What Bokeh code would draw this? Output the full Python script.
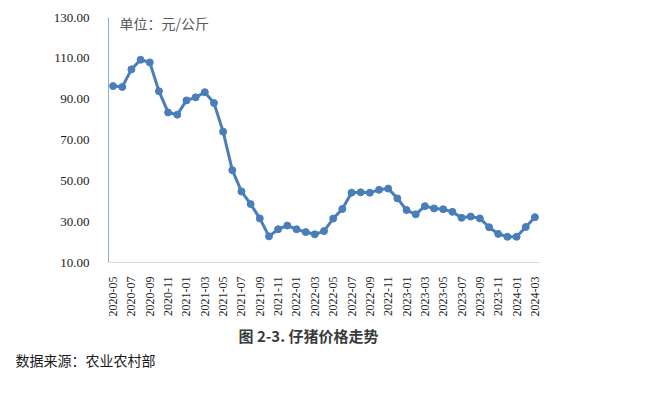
from bokeh.plotting import figure
from bokeh.models import Label, FixedTicker, Range1d, PrintfTickFormatter, Title
from bokeh.embed import file_html
from bokeh.resources import INLINE
import math

months = ["2020-05", "2020-06", "2020-07", "2020-08", "2020-09", "2020-10", "2020-11", "2020-12",
          "2021-01", "2021-02", "2021-03", "2021-04", "2021-05", "2021-06", "2021-07", "2021-08",
          "2021-09", "2021-10", "2021-11", "2021-12", "2022-01", "2022-02", "2022-03", "2022-04",
          "2022-05", "2022-06", "2022-07", "2022-08", "2022-09", "2022-10", "2022-11", "2022-12",
          "2023-01", "2023-02", "2023-03", "2023-04", "2023-05", "2023-06", "2023-07", "2023-08",
          "2023-09", "2023-10", "2023-11", "2023-12", "2024-01", "2024-02", "2024-03"]
prices = [96.4, 96.0, 104.6, 109.3, 108.0, 93.9, 83.5, 82.4,
          89.4, 90.9, 93.4, 88.1, 74.1, 55.2, 44.8, 38.6,
          31.6, 22.8, 26.3, 28.1, 26.3, 24.9, 23.8, 25.4,
          31.5, 36.2, 44.2, 44.4, 44.2, 45.6, 46.2, 41.4,
          35.7, 33.6, 37.6, 36.5, 36.1, 34.8, 31.9, 32.5,
          31.6, 27.3, 24.0, 22.6, 22.6, 27.4, 32.2]
y_ticks = [10, 30, 50, 70, 90, 110, 130]
unit_text = "单位：元/公斤"
caption_text = "图 2-3. 仔猪价格走势"
source_text = "数据来源：农业农村部"

x = list(range(len(months)))

FL, FT, FW, FH = 108, 17, 431, 245
p = figure(output_backend="svg", toolbar_location=None,
           frame_width=FW, frame_height=FH,
           min_border_left=FL, min_border_top=FT, min_border_right=99, min_border_bottom=136,
           x_range=Range1d(-0.5, len(months) - 0.5), y_range=Range1d(10, 130))
p.outline_line_color = None
p.grid.grid_line_color = None
p.background_fill_color = "white"
p.border_fill_color = "white"

p.line(x, prices, line_color="#4A7EBB", line_width=3)
p.scatter(x, prices, size=7, fill_color="#4A7EBB", line_color="#4A7EBB")

# y axis
p.yaxis.ticker = FixedTicker(ticks=y_ticks)
p.yaxis.formatter = PrintfTickFormatter(format="%.2f")
p.yaxis.major_label_text_font = "Liberation Serif"
p.yaxis.major_label_text_font_size = "13px"
p.yaxis.major_label_text_color = "#1a1a1a"
p.yaxis.major_label_standoff = 13
p.yaxis.axis_line_color = "#8FAADC"
p.yaxis.major_tick_line_color = None
p.yaxis.minor_tick_line_color = None

# x axis
p.xaxis.ticker = FixedTicker(ticks=x[::2])
p.xaxis.major_label_overrides = {i: months[i] for i in x}
p.xaxis.major_label_orientation = math.pi / 2
p.xaxis.major_label_text_font = "Liberation Serif"
p.xaxis.major_label_text_font_size = "12px"
p.xaxis.major_label_text_color = "#262626"
p.xaxis.major_label_standoff = 8
p.xaxis.axis_line_color = "#D9D9D9"
p.xaxis.major_tick_line_color = None
p.xaxis.minor_tick_line_color = None

# unit label inside the frame (page pixel -> data coords)
def dx(px):
    return (px - FL) / (FW / len(months)) - 0.5

def dy(py):
    return 10 + ((FT + FH) - py) / (FH / 120.0)

p.add_layout(Label(x=dx(119), y=dy(22), text=unit_text, text_font="Noto Sans CJK SC",
                   text_font_size="14px", text_color="#595959", text_baseline="middle"))

# caption and source below the chart
cap = Title(text=caption_text, align="left", offset=130, standoff=7,
            text_font="Noto Sans CJK SC", text_font_size="15px", text_font_style="bold",
            text_color="#3a3a3a")
src = Title(text=source_text, align="left", offset=-93, standoff=-3,
            text_font="Noto Sans CJK SC", text_font_size="14px", text_font_style="normal",
            text_color="#1a1a1a")
p.add_layout(cap, "below")
p.add_layout(src, "below")

open("out.html", "w").write(file_html(p, INLINE))
